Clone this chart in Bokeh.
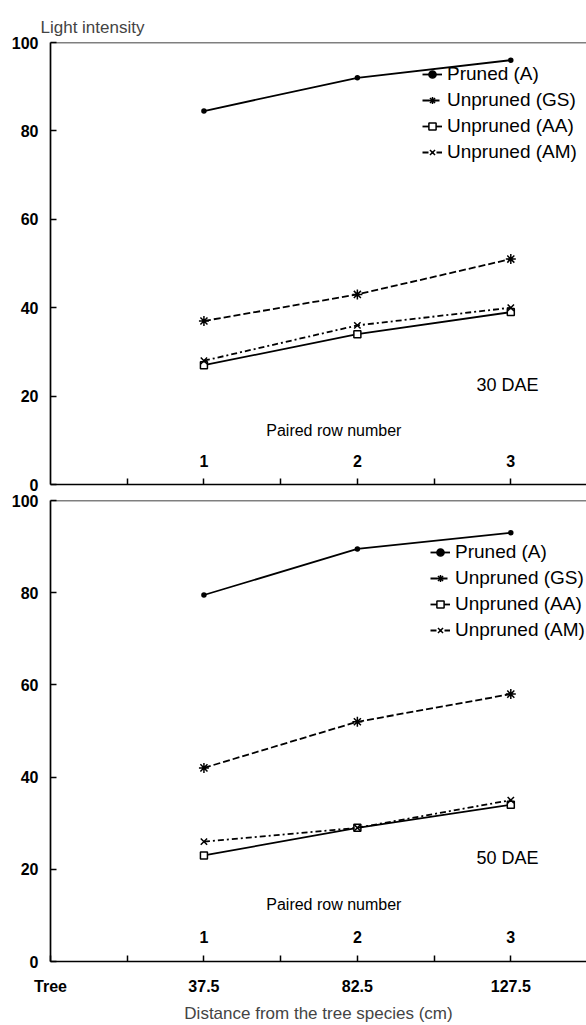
from bokeh.plotting import figure
from bokeh.layouts import column
from bokeh.models import Range1d, FixedTicker, Span, Legend, LegendItem
from bokeh.embed import file_html
from bokeh.resources import INLINE
from bokeh.core.properties import value

# ---- data ----
distance = [37.5, 82.5, 127.5]
distance_labels = ["37.5", "82.5", "127.5"]
tree_position = -7.5
tree_label = "Tree"
row_numbers = ["1", "2", "3"]
series_names = ["Pruned (A)", "Unpruned (GS)", "Unpruned (AA)", "Unpruned (AM)"]

dae30_pruned_a = [84.5, 92, 96]
dae30_unpruned_gs = [37, 43, 51]
dae30_unpruned_aa = [27, 34, 39]
dae30_unpruned_am = [28, 36, 40]

dae50_pruned_a = [79.5, 89.5, 93]
dae50_unpruned_gs = [42, 52, 58]
dae50_unpruned_aa = [23, 29, 34]
dae50_unpruned_am = [26, 29, 35]

y_ticks = [0, 20, 40, 60, 80, 100]
x_minor_positions = [15, 60, 105]

FONT = "Liberation Sans"

styles = [
    dict(marker="circle", size=4, dash="solid", fill="black"),
    dict(marker="asterisk", size=10, dash="7 3", fill="black"),
    dict(marker="square", size=7, dash="solid", fill="white"),
    dict(marker="x", size=9, dash="6 3 2 3", fill="black"),
]


def make_panel(series, panel_text, bottom, height, min_top, min_bottom, legend_loc):
    p = figure(width=586, height=height, output_backend="svg", toolbar_location=None,
               x_range=Range1d(tree_position, 149.7), y_range=Range1d(0, 100),
               min_border_left=50, min_border_right=0, min_border_top=min_top,
               min_border_bottom=min_bottom)
    p.outline_line_color = None
    p.grid.visible = False
    p.background_fill_color = "white"

    # axes
    p.yaxis.ticker = FixedTicker(ticks=y_ticks)
    if bottom:
        p.xaxis.ticker = FixedTicker(ticks=[tree_position] + distance,
                                     minor_ticks=x_minor_positions)
    else:
        p.xaxis.ticker = FixedTicker(ticks=[],
                                     minor_ticks=sorted(distance + x_minor_positions))
    for ax in (p.xaxis, p.yaxis):
        ax.axis_line_width = 1.7
        ax.axis_line_color = "black"
        ax.major_tick_in = 6
        ax.major_tick_out = 0
        ax.major_tick_line_width = 1.5
        ax.major_label_text_font = FONT
        ax.major_label_text_font_style = "bold"
        ax.major_label_text_font_size = "16px"
        ax.major_label_text_color = "black"
    p.yaxis.minor_tick_line_color = None
    p.xaxis.minor_tick_in = 6
    p.xaxis.minor_tick_out = 0
    p.xaxis.minor_tick_line_width = 1.5
    p.xaxis.minor_tick_line_color = "black"
    p.yaxis.major_label_standoff = 12

    if bottom:
        overrides = {tree_position: tree_label}
        for v, lab in zip(distance, distance_labels):
            overrides[v] = lab
        p.xaxis.major_label_overrides = overrides
        p.xaxis.major_label_standoff = 16
        p.xaxis.axis_label = "Distance from the tree species (cm)"
        p.xaxis.axis_label_text_font = FONT
        p.xaxis.axis_label_text_font_style = "normal"
        p.xaxis.axis_label_text_font_size = "17px"
        p.xaxis.axis_label_standoff = 6
    else:
        p.xaxis.major_label_standoff = 0

    p.add_layout(Span(location=100, dimension="width", line_color="black",
                      line_width=1.7))

    items = []
    for name, vals, st in zip(series_names, series, styles):
        ln = p.line(distance, vals, line_color="black", line_width=1.8,
                    line_dash=st["dash"])
        sc = p.scatter(distance, vals, marker=st["marker"], size=st["size"],
                       line_color="black", fill_color=st["fill"], line_width=1.5)
        items.append(LegendItem(label=name, renderers=[ln, sc]))

    legend = Legend(items=items, location=legend_loc, padding=0, margin=0,
                    spacing=4, glyph_width=20, glyph_height=18, label_height=20,
                    label_standoff=5, border_line_color=None,
                    background_fill_alpha=0, label_text_font=FONT,
                    label_text_font_size="19px", label_text_color="black")
    p.add_layout(legend, "center")

    # row numbers and labels inside the panel
    p.text(x=distance, y=5.4, text=row_numbers, text_font=value(FONT),
           text_font_style="bold", text_font_size="16px", text_align="center",
           text_baseline="middle", text_color="black")
    p.text(x=[75.6], y=[12.3], text=["Paired row number"], text_font=value(FONT),
           text_font_size="16px", text_align="center", text_baseline="middle",
           text_color="black")
    p.text(x=[126.5], y=[22.5], text=[panel_text], text_font=value(FONT),
           text_font_size="18px", text_align="center", text_baseline="middle",
           text_color="black")
    return p


top = make_panel([dae30_pruned_a, dae30_unpruned_gs, dae30_unpruned_aa, dae30_unpruned_am],
                 "30 DAE", False, 492, 42, 8, (372, 321))
top.title.text = "Light intensity"
top.title.text_font = FONT
top.title.text_font_style = "normal"
top.title.text_font_size = "17px"
top.title.offset = -10
top.title.standoff = 12

bot = make_panel([dae50_pruned_a, dae50_unpruned_gs, dae50_unpruned_aa, dae50_unpruned_am],
                 "50 DAE", True, 533, 8, 60, (380, 320))

layout = column(top, bot, spacing=0)
open("out.html", "w").write(file_html(layout, INLINE))
